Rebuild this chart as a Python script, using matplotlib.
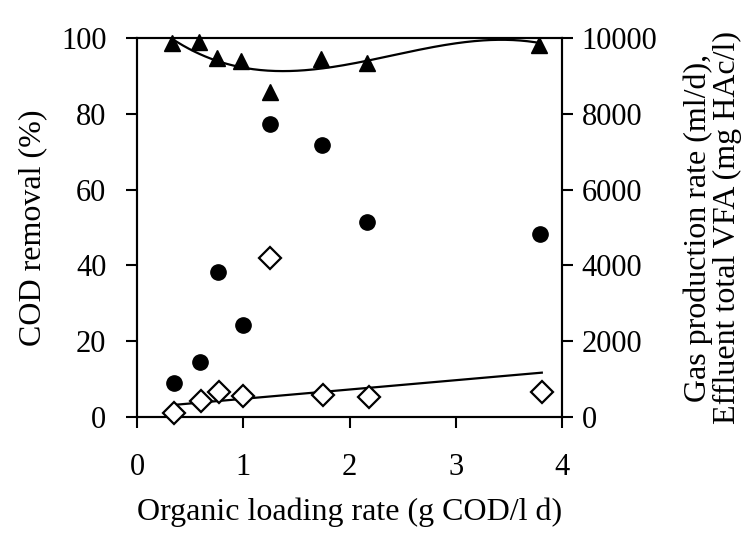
import numpy as np
import matplotlib
matplotlib.use("Agg")
import matplotlib.pyplot as plt

plt.rcParams['font.family'] = ['Liberation Serif', 'DejaVu Serif']

# Data
olr = [0.33, 0.58, 0.75, 0.98, 1.25, 1.73, 2.16, 3.78]
cod_removal = [98.6, 99.0, 94.6, 94.0, 85.8, 94.4, 93.3, 98.2]

gas_olr = [0.35, 0.59, 0.76, 1.00, 1.25, 1.74, 2.16, 3.79]
gas_production = [890, 1440, 3830, 2430, 7730, 7180, 5140, 4830]

vfa_olr = [0.35, 0.60, 0.77, 1.00, 1.25, 1.75, 2.18, 3.81]
vfa = [100, 420, 670, 560, 4200, 580, 540, 650]

# Trend lines
cod_trend_x = [0.33, 0.75, 1.0, 1.25, 1.5, 1.82, 2.16, 2.6, 3.07, 3.39, 3.78]
cod_trend_y = [99.8, 93.8, 92.4, 91.4, 91.4, 92.3, 93.8, 96.4, 99.0, 99.7, 98.6]
vfa_trend_x = [0.35, 3.81]
vfa_trend_y = [320, 1170]

fig = plt.figure(figsize=(7.52, 5.34), dpi=100)
ax = fig.add_axes([137/752, 1 - 417/534, (562-137)/752, (417-38)/534])
ax2 = ax.twinx()

fs = 23
coef = np.polyfit(cod_trend_x, cod_trend_y, 3)
xx = np.linspace(cod_trend_x[0], cod_trend_x[-1], 200)
ax.plot(xx, np.polyval(coef, xx), color='black', lw=1.6, zorder=2)
ax.plot(olr, cod_removal, linestyle='none', marker='^', color='black',
        markersize=12, zorder=3, clip_on=False)

ax2.plot(vfa_trend_x, vfa_trend_y, color='black', lw=1.6, zorder=2)
ax2.plot(gas_olr, gas_production, linestyle='none', marker='o', color='black',
         markersize=11, zorder=3)
ax2.plot(vfa_olr, vfa, linestyle='none', marker='D', markerfacecolor='white',
         markeredgecolor='black', markeredgewidth=1.6, markersize=11, zorder=3,
         clip_on=False)

ax.set_xlim(0, 4)
ax.set_ylim(0, 100)
ax2.set_ylim(0, 10000)
ax.set_xticks([0, 1, 2, 3, 4])
ax.set_yticks([0, 20, 40, 60, 80, 100])
ax2.set_yticks([0, 2000, 4000, 6000, 8000, 10000])

for a in (ax, ax2):
    for s in a.spines.values():
        s.set_linewidth(1.5)
    a.tick_params(direction='out', length=8, width=1.5, labelsize=fs - 1, pad=14)
ax.tick_params(axis='x', pad=18)
ax2.tick_params(axis='y', pad=6)

ax.set_ylabel('COD removal (%)', fontsize=fs, labelpad=10)
ax.set_xlabel('Organic loading rate (g COD/l d)', fontsize=fs, labelpad=11)
ax2.set_ylabel('Gas production rate (ml/d),\nEffluent total VFA (mg HAc/l)',
               fontsize=fs, labelpad=19, linespacing=1.0)

fig.savefig('out.png', dpi=100)
